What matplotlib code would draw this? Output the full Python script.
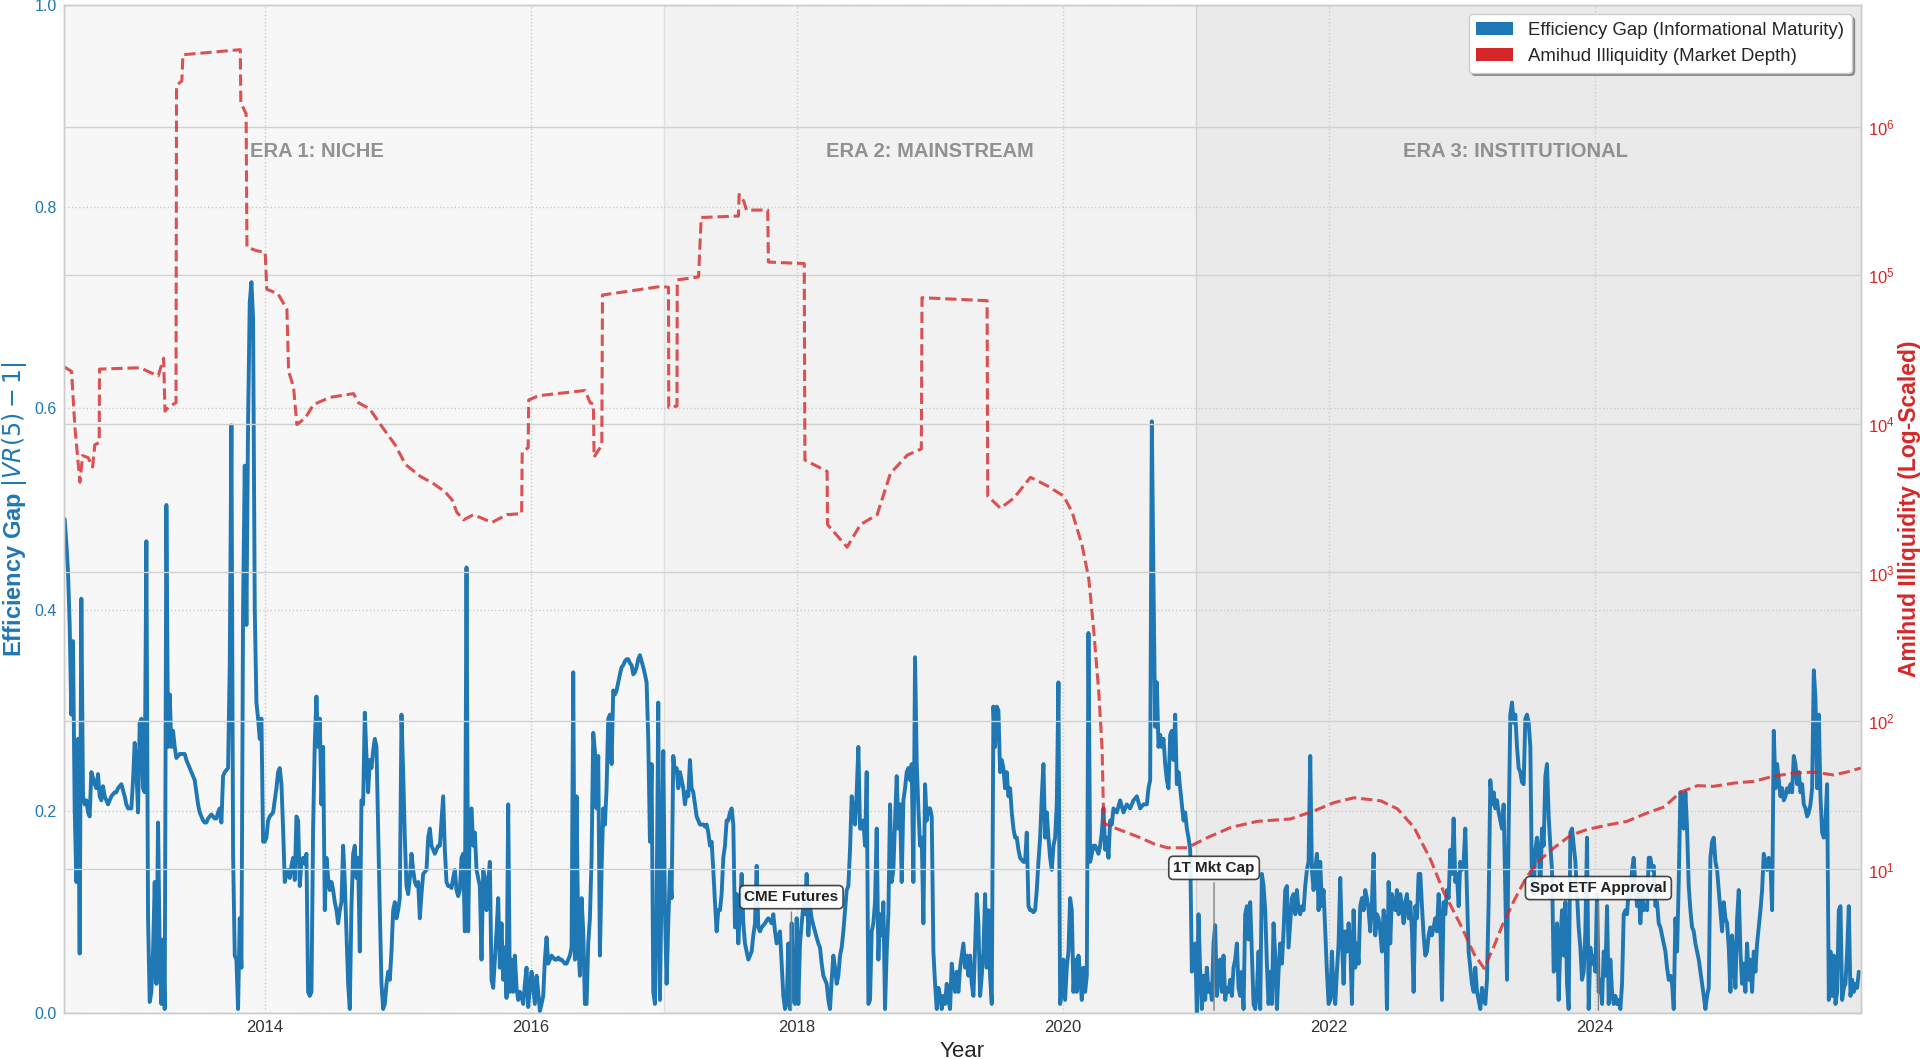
import pandas as pd
import numpy as np
from datetime import datetime, timedelta
import matplotlib
matplotlib.use('Agg')
from matplotlib import pyplot as plt
import matplotlib.dates as mdates
from matplotlib.patches import Patch

plt.style.use('seaborn-v0_8-whitegrid')
plt.rcParams['font.family'] = ['Liberation Sans', 'DejaVu Sans']

# efficiency gap |VR(5)-1|, one reading every ~4.58 days from mid 2012
gap_start = '2012-07-01'
gap_step_days = 4.577
gap_values = [
    0.490, 0.466, 0.438, 0.385, 0.296, 0.369, 0.203, 0.130, 0.272, 0.059,
    0.411, 0.215, 0.207, 0.211, 0.199, 0.195, 0.239, 0.233, 0.227, 0.223,
    0.237, 0.215, 0.211, 0.225, 0.215, 0.211, 0.207, 0.211, 0.215, 0.217,
    0.219, 0.219, 0.223, 0.225, 0.227, 0.221, 0.215, 0.207, 0.203, 0.203,
    0.203, 0.231, 0.268, 0.243, 0.199, 0.288, 0.292, 0.223, 0.219, 0.468,
    0.094, 0.011, 0.021, 0.061, 0.130, 0.029, 0.189, 0.061, 0.009, 0.073,
    0.004, 0.504, 0.264, 0.316, 0.264, 0.280, 0.264, 0.253, 0.255, 0.257,
    0.257, 0.257, 0.257, 0.251, 0.247, 0.243, 0.239, 0.235, 0.231, 0.219,
    0.207, 0.199, 0.195, 0.191, 0.189, 0.189, 0.193, 0.195, 0.197, 0.195,
    0.193, 0.193, 0.199, 0.203, 0.189, 0.235, 0.239, 0.241, 0.243, 0.345,
    0.583, 0.158, 0.057, 0.053, 0.004, 0.094, 0.045, 0.401, 0.543, 0.385,
    0.587, 0.705, 0.725, 0.689, 0.401, 0.308, 0.292, 0.272, 0.292, 0.170,
    0.170, 0.174, 0.191, 0.195, 0.197, 0.199, 0.211, 0.223, 0.239, 0.243,
    0.227, 0.183, 0.130, 0.138, 0.142, 0.134, 0.146, 0.154, 0.132, 0.195,
    0.191, 0.126, 0.150, 0.154, 0.148, 0.158, 0.021, 0.017, 0.021, 0.183,
    0.268, 0.314, 0.264, 0.292, 0.207, 0.264, 0.102, 0.154, 0.134, 0.122,
    0.130, 0.122, 0.110, 0.102, 0.089, 0.102, 0.110, 0.166, 0.130, 0.081,
    0.029, 0.004, 0.106, 0.158, 0.166, 0.134, 0.154, 0.061, 0.211, 0.207,
    0.298, 0.255, 0.219, 0.251, 0.243, 0.260, 0.272, 0.264, 0.183, 0.102,
    0.029, 0.004, 0.009, 0.029, 0.041, 0.033, 0.061, 0.102, 0.110, 0.094,
    0.102, 0.114, 0.296, 0.239, 0.174, 0.126, 0.118, 0.134, 0.158, 0.142,
    0.130, 0.126, 0.130, 0.094, 0.118, 0.138, 0.140, 0.142, 0.174, 0.183,
    0.166, 0.162, 0.158, 0.162, 0.166,
    # 2015 - 2017
    0.166, 0.191, 0.215, 0.162, 0.130, 0.126, 0.126, 0.124, 0.134, 0.142,
    0.122, 0.116, 0.122, 0.154, 0.158, 0.081, 0.442, 0.081, 0.199, 0.203,
    0.166, 0.179, 0.142, 0.134, 0.126, 0.053, 0.142, 0.134, 0.102, 0.130,
    0.150, 0.033, 0.025, 0.053, 0.081, 0.114, 0.045, 0.089, 0.033, 0.065,
    0.015, 0.207, 0.021, 0.053, 0.021, 0.057, 0.025, 0.013, 0.021, 0.017,
    0.009, 0.029, 0.045, 0.006, 0.025, 0.041, 0.025, 0.009, 0.037, 0.021,
    0.002, 0.009, 0.017, 0.053, 0.075, 0.049, 0.053, 0.057, 0.055, 0.053,
    0.053, 0.055, 0.053, 0.053, 0.051, 0.049, 0.049, 0.053, 0.057, 0.065,
    0.338, 0.053, 0.215, 0.069, 0.037, 0.114, 0.081, 0.009, 0.009, 0.069,
    0.094, 0.154, 0.278, 0.260, 0.203, 0.255, 0.057, 0.142, 0.203, 0.187,
    0.223, 0.292, 0.296, 0.247, 0.320, 0.316, 0.320, 0.328, 0.336, 0.343,
    0.345, 0.349, 0.351, 0.351, 0.347, 0.345, 0.336, 0.338, 0.343, 0.351,
    0.355, 0.349, 0.343, 0.336, 0.328, 0.272, 0.170, 0.247, 0.021, 0.009,
    0.102, 0.308, 0.013, 0.130, 0.260, 0.102, 0.029, 0.089, 0.142, 0.114,
    0.255, 0.239, 0.243, 0.223, 0.239, 0.231, 0.223, 0.207, 0.219, 0.215,
    0.251, 0.223, 0.219, 0.207, 0.195, 0.191, 0.187, 0.187, 0.187, 0.185,
    0.187, 0.179, 0.166, 0.170, 0.142, 0.110, 0.081, 0.102, 0.102, 0.118,
    0.154, 0.166, 0.191, 0.191, 0.199, 0.203, 0.187, 0.085, 0.118, 0.069,
    0.102, 0.138, 0.089, 0.069, 0.061, 0.053, 0.057, 0.061, 0.077, 0.089,
    0.146, 0.085, 0.081, 0.085, 0.087, 0.089, 0.092, 0.094, 0.092, 0.089,
    0.098, 0.081, 0.069, 0.077, 0.081, 0.049, 0.017, 0.004, 0.009, 0.069,
    0.004, 0.089, 0.013, 0.009, 0.094, 0.009,
    # 2018 - 2020
    0.069, 0.089, 0.106, 0.098, 0.138, 0.077, 0.106, 0.094, 0.087, 0.081,
    0.075, 0.069, 0.065, 0.049, 0.037, 0.033, 0.029, 0.013, 0.004, 0.033,
    0.057, 0.045, 0.029, 0.037, 0.057, 0.065, 0.081, 0.102, 0.122, 0.126,
    0.162, 0.215, 0.199, 0.187, 0.219, 0.264, 0.183, 0.183, 0.191, 0.166,
    0.239, 0.009, 0.013, 0.081, 0.089, 0.110, 0.183, 0.053, 0.098, 0.077,
    0.110, 0.004, 0.061, 0.098, 0.207, 0.130, 0.142, 0.191, 0.235, 0.183,
    0.207, 0.130, 0.211, 0.223, 0.239, 0.243, 0.231, 0.247, 0.130, 0.353,
    0.247, 0.203, 0.166, 0.174, 0.089, 0.227, 0.191, 0.203, 0.203, 0.195,
    0.061, 0.029, 0.004, 0.025, 0.017, 0.004, 0.017, 0.009, 0.029, 0.013,
    0.004, 0.049, 0.033, 0.021, 0.041, 0.021, 0.045, 0.057, 0.069, 0.045,
    0.057, 0.037, 0.057, 0.029, 0.017, 0.065, 0.118, 0.089, 0.017, 0.037,
    0.061, 0.118, 0.045, 0.102, 0.037, 0.009, 0.304, 0.264, 0.304, 0.300,
    0.239, 0.251, 0.243, 0.223, 0.239, 0.215, 0.223, 0.199, 0.183, 0.174,
    0.174, 0.162, 0.154, 0.152, 0.150, 0.150, 0.179, 0.106, 0.102, 0.102,
    0.100, 0.102, 0.122, 0.150, 0.174, 0.215, 0.247, 0.174, 0.199, 0.174,
    0.154, 0.142, 0.166, 0.174, 0.207, 0.328, 0.009, 0.021, 0.053, 0.013,
    0.045, 0.061, 0.114, 0.102, 0.021, 0.053, 0.021, 0.057, 0.037, 0.013,
    0.045, 0.021, 0.037, 0.377, 0.150, 0.158, 0.166, 0.166, 0.162, 0.158,
    0.166, 0.179, 0.203, 0.162, 0.174, 0.154, 0.191, 0.187, 0.203, 0.201,
    0.199, 0.205, 0.211, 0.205, 0.199, 0.203, 0.207, 0.205, 0.203, 0.207,
    0.211, 0.213, 0.215, 0.209, 0.203, 0.205, 0.207, 0.207, 0.207, 0.223,
    0.231, 0.587, 0.426, 0.284, 0.328, 0.264,
    # 2020 - 2023
    0.276, 0.264, 0.272, 0.247, 0.231, 0.223, 0.276, 0.280, 0.251, 0.296,
    0.227, 0.239, 0.223, 0.207, 0.191, 0.199, 0.183, 0.174, 0.162, 0.041,
    0.061, 0.069, 0.000, 0.098, 0.041, 0.004, 0.037, 0.013, 0.045, 0.021,
    0.029, 0.013, 0.069, 0.087, 0.017, 0.037, 0.053, 0.021, 0.057, 0.013,
    0.025, 0.021, 0.033, 0.017, 0.045, 0.053, 0.069, 0.025, 0.017, 0.041,
    0.004, 0.098, 0.106, 0.073, 0.110, 0.061, 0.009, 0.004, 0.021, 0.061,
    0.004, 0.138, 0.126, 0.102, 0.049, 0.009, 0.041, 0.009, 0.089, 0.057,
    0.004, 0.041, 0.069, 0.049, 0.081, 0.122, 0.126, 0.065, 0.089, 0.114,
    0.118, 0.098, 0.122, 0.102, 0.098, 0.106, 0.102, 0.126, 0.142, 0.150,
    0.255, 0.142, 0.122, 0.142, 0.158, 0.102, 0.150, 0.106, 0.122, 0.081,
    0.041, 0.009, 0.013, 0.061, 0.021, 0.009, 0.041, 0.069, 0.134, 0.073,
    0.029, 0.081, 0.061, 0.089, 0.069, 0.009, 0.102, 0.045, 0.069, 0.049,
    0.106, 0.114, 0.102, 0.122, 0.114, 0.102, 0.081, 0.110, 0.158, 0.077,
    0.098, 0.094, 0.081, 0.061, 0.102, 0.089, 0.004, 0.130, 0.069, 0.118,
    0.106, 0.102, 0.122, 0.098, 0.118, 0.106, 0.089, 0.110, 0.118, 0.094,
    0.110, 0.081, 0.021, 0.106, 0.094, 0.138, 0.138, 0.106, 0.077, 0.057,
    0.061, 0.077, 0.085, 0.077, 0.085, 0.094, 0.081, 0.118, 0.089, 0.013,
    0.110, 0.098, 0.122, 0.114, 0.162, 0.138, 0.193, 0.130, 0.138, 0.106,
    0.150, 0.142, 0.150, 0.183, 0.118, 0.061, 0.045, 0.029, 0.021, 0.045,
    0.021, 0.013, 0.004, 0.025, 0.013, 0.009, 0.033, 0.110, 0.231, 0.207,
    0.219, 0.203, 0.211, 0.199, 0.191, 0.183, 0.207, 0.118, 0.033, 0.183,
    0.296, 0.308, 0.288, 0.296, 0.264, 0.243,
    # 2023 - 2025
    0.239, 0.229, 0.227, 0.292, 0.296, 0.288, 0.264, 0.122, 0.118, 0.162,
    0.174, 0.162, 0.122, 0.183, 0.166, 0.235, 0.247, 0.195, 0.166, 0.142,
    0.041, 0.045, 0.089, 0.013, 0.069, 0.102, 0.057, 0.110, 0.029, 0.004,
    0.179, 0.183, 0.166, 0.150, 0.118, 0.085, 0.065, 0.033, 0.041, 0.081,
    0.174, 0.004, 0.065, 0.049, 0.057, 0.041, 0.118, 0.021, 0.033, 0.009,
    0.061, 0.037, 0.106, 0.009, 0.053, 0.021, 0.009, 0.017, 0.009, 0.013,
    0.004, 0.029, 0.098, 0.102, 0.098, 0.122, 0.114, 0.142, 0.154, 0.126,
    0.106, 0.122, 0.089, 0.122, 0.102, 0.106, 0.102, 0.154, 0.154, 0.142,
    0.146, 0.106, 0.110, 0.089, 0.085, 0.077, 0.069, 0.061, 0.045, 0.033,
    0.037, 0.029, 0.004, 0.094, 0.061, 0.130, 0.219, 0.211, 0.183, 0.219,
    0.183, 0.126, 0.102, 0.085, 0.081, 0.069, 0.061, 0.053, 0.041, 0.029,
    0.017, 0.004, 0.017, 0.025, 0.154, 0.170, 0.174, 0.150, 0.142, 0.122,
    0.102, 0.081, 0.110, 0.094, 0.089, 0.065, 0.021, 0.077, 0.053, 0.025,
    0.094, 0.122, 0.061, 0.029, 0.049, 0.021, 0.069, 0.033, 0.053, 0.021,
    0.061, 0.041, 0.069, 0.085, 0.102, 0.122, 0.158, 0.150, 0.142, 0.154,
    0.150, 0.102, 0.280, 0.223, 0.247, 0.231, 0.215, 0.223, 0.211, 0.215,
    0.223, 0.219, 0.227, 0.219, 0.255, 0.247, 0.227, 0.239, 0.219, 0.227,
    0.207, 0.203, 0.195, 0.199, 0.207, 0.223, 0.340, 0.312, 0.223, 0.296,
    0.215, 0.179, 0.174, 0.191, 0.227, 0.013, 0.061, 0.017, 0.057, 0.009,
    0.021, 0.102, 0.106, 0.013, 0.025, 0.029, 0.061, 0.106, 0.017, 0.033,
    0.021, 0.029, 0.025, 0.041,
]

# Amihud illiquidity (decimal year, value)
amihud_years = [
    2012.495, 2012.550, 2012.575, 2012.613, 2012.633, 2012.675, 2012.708, 2012.725,
    2012.758, 2012.760, 2013.064, 2013.140, 2013.200, 2013.240, 2013.250, 2013.277,
    2013.333, 2013.337, 2013.377, 2013.385, 2013.816, 2013.820, 2013.860, 2013.866,
    2013.936, 2014.004, 2014.016, 2014.100, 2014.167, 2014.180, 2014.217, 2014.242,
    2014.305, 2014.367, 2014.490, 2014.668, 2014.705, 2014.790, 2014.870, 2014.980,
    2015.060, 2015.170, 2015.270, 2015.357, 2015.410, 2015.445, 2015.495, 2015.570,
    2015.708, 2015.820, 2015.932, 2015.936, 2015.981, 2015.985, 2016.060, 2016.410,
    2016.447, 2016.472, 2016.477, 2016.535, 2016.540, 2016.980, 2017.034, 2017.036,
    2017.098, 2017.100, 2017.260, 2017.280, 2017.560, 2017.565, 2017.600, 2017.620,
    2017.780, 2017.785, 2018.055, 2018.060, 2018.227, 2018.230, 2018.377, 2018.477,
    2018.603, 2018.703, 2018.830, 2018.935, 2018.940, 2019.430, 2019.435, 2019.530,
    2019.630, 2019.756, 2019.880, 2020.006, 2020.070, 2020.144, 2020.194, 2020.230,
    2020.270, 2020.295, 2020.307, 2020.380, 2020.580, 2020.683, 2020.784, 2020.934,
    2021.085, 2021.260, 2021.460, 2021.710, 2021.886, 2022.036, 2022.187, 2022.387,
    2022.513, 2022.638, 2022.763, 2022.863, 2022.990, 2023.090, 2023.165, 2023.240,
    2023.300, 2023.390, 2023.478, 2023.566, 2023.690, 2023.816, 2023.940, 2024.090,
    2024.240, 2024.390, 2024.520, 2024.640, 2024.770, 2024.890, 2025.044, 2025.190,
    2025.340, 2025.490, 2025.640, 2025.790, 2025.890, 2025.995,
]
amihud_values = [
    24200, 22600, 9550, 4050, 6120, 5930, 5130, 7240,
    7500, 23400, 23900, 22200, 21100, 27700, 12200, 13000,
    13900, 1905000, 2042000, 3062000, 3311000, 1455000, 1225000, 155000,
    146900, 142900, 80700, 75300, 59200, 22600, 17700, 9910,
    10960, 13500, 15100, 16000, 13900, 12600, 9910, 7240,
    5320, 4440, 3960, 3490, 3070, 2540, 2260, 2450,
    2170, 2450, 2490, 6460, 6920, 14500, 15500, 16800,
    13900, 13600, 5980, 7230, 73800, 84300, 83200, 12900,
    13200, 93300, 97700, 245500, 251200, 350800, 316200, 275400,
    275400, 123000, 120200, 5710, 4790, 2100, 1480, 2100,
    2450, 4650, 6170, 6790, 70800, 67600, 3270, 2710,
    3160, 4370, 3840, 3270, 2540, 1530, 918, 427,
    156, 64.6, 20.5, 19.2, 16.4, 14.9, 14.0, 14.0,
    16.4, 19.2, 21.1, 21.9, 24.8, 28.2, 30.4, 29.0,
    25.6, 19.2, 11.6, 6.97, 4.20, 2.69, 2.16, 3.05,
    4.17, 6.17, 8.71, 11.2, 14.0, 17.0, 18.6, 19.9,
    21.1, 24.0, 26.4, 33.1, 36.7, 36.3, 38.2, 39.2,
    42.5, 44.5, 45.3, 43.3, 45.3, 48.2,
]

era_names = ['ERA 1: NICHE', 'ERA 2: MAINSTREAM', 'ERA 3: INSTITUTIONAL']
era_starts = ['2012-01-01', '2017-01-01', '2021-01-01']
era_ends = ['2017-01-01', '2021-01-01', '2026-06-01']
era_label_dates = ['2014-05-25', '2019-01-01', '2023-05-28']
era_alphas = [0.06, 0.10, 0.16]

event_names = ['CME Futures', '1T Mkt Cap', 'Spot ETF Approval']
event_dates = ['2017-12-17', '2021-02-19', '2024-01-10']
event_label_y = [0.115, 0.144, 0.124]

blue = '#1f77b4'
red = '#d62728'


def year_to_date(y):
    return datetime(int(y), 1, 1) + timedelta(days=(y - int(y)) * 365.25)


gap_dates = pd.date_range(gap_start, periods=len(gap_values),
                          freq=pd.Timedelta(days=gap_step_days))
amihud_dates = [year_to_date(y) for y in amihud_years]

fig, ax = plt.subplots(figsize=(19.2, 10.59), dpi=100)
fig.subplots_adjust(left=0.0333, right=0.9693, top=0.9953, bottom=0.0434)

for name, s, e, lx, a in zip(era_names, era_starts, era_ends, era_label_dates, era_alphas):
    ax.axvspan(pd.Timestamp(s), pd.Timestamp(e), color='gray', alpha=a, zorder=0)
    ax.text(pd.Timestamp(lx), 0.855, name, ha='center', va='center',
            fontsize=14.5, fontweight='bold', color='gray', alpha=0.85)

ax.plot(gap_dates, gap_values, color=blue, lw=2.8, zorder=2)
ax.set_ylim(0, 1.0)
ax.set_xlim(pd.Timestamp('2012-06-29'), pd.Timestamp('2025-12-31'))
ax.xaxis.set_major_locator(mdates.YearLocator(2))
ax.xaxis.set_major_formatter(mdates.DateFormatter('%Y'))
ax.grid(True, linestyle=':', color='0.8', lw=1)
ax.tick_params(axis='y', labelcolor=blue, labelsize=11.5, pad=5)
ax.tick_params(axis='x', labelcolor='0.2', labelsize=12, pad=5)
ax.set_xlabel('Year', fontsize=16, color='0.15')
ax.set_ylabel(r'Efficiency Gap $|VR(5) - 1|$', color=blue, fontsize=17, fontweight='bold')

ax2 = ax.twinx()
ax2.plot(amihud_dates, amihud_values, color=red, ls='--', lw=2.2, alpha=0.8)
ax2.set_yscale('log')
ax2.set_ylim(min(amihud_values) * 0.5, max(amihud_values) * 2)
ax2.grid(True, axis='y', which='major', color='0.82', lw=1, ls='-')
ax2.grid(False, axis='y', which='minor')
ax2.tick_params(axis='y', which='both', labelcolor=red, labelsize=12, pad=5)
ax2.set_ylabel('Amihud Illiquidity (Log-Scaled)', color=red, fontsize=16.5,
               fontweight='bold', labelpad=2)

for name, d, y in zip(event_names, event_dates, event_label_y):
    x = mdates.date2num(pd.Timestamp(d))
    ax2.annotate(name, xy=(x, 0), xycoords=ax.transData,
                 xytext=(x, y), textcoords=ax.transData,
                 ha='center', va='center', fontsize=11, fontweight='bold', color='#222222',
                 bbox=dict(boxstyle='round,pad=0.3', fc='white', ec='#333333', lw=1.2, alpha=0.9),
                 arrowprops=dict(arrowstyle='-', color='gray', lw=1), zorder=5)

handles = [Patch(facecolor=blue, label='Efficiency Gap (Informational Maturity)'),
           Patch(facecolor=red, label='Amihud Illiquidity (Market Depth)')]
leg = ax2.legend(handles=handles, loc='upper right', frameon=True, shadow=True,
                 fancybox=True, framealpha=1, fontsize=13.4)
leg.get_frame().set_edgecolor('0.8')

fig.savefig('out.png', dpi=100)
